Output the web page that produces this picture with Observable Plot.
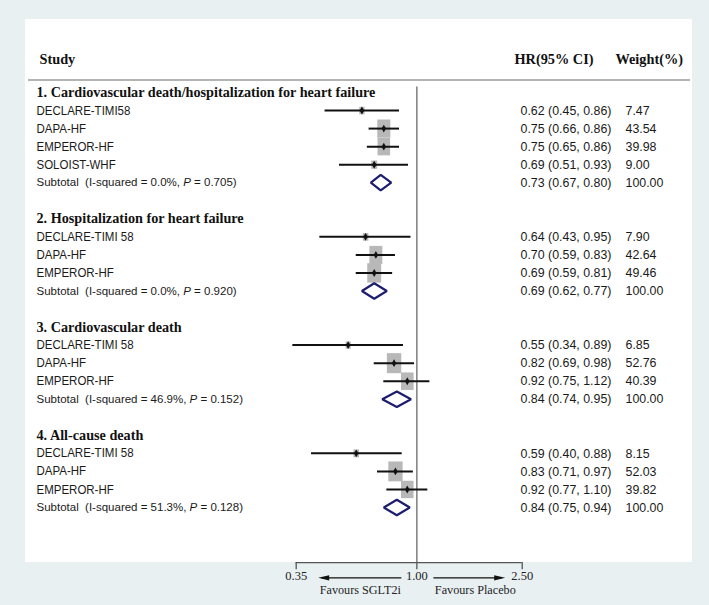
<!DOCTYPE html>
<html>
<head>
<meta charset="utf-8">
<script src="https://cdn.jsdelivr.net/npm/d3@7"></script>
<script src="https://cdn.jsdelivr.net/npm/@observablehq/plot@0.6"></script>
<style>
  html, body { margin: 0; padding: 0; background: #e9f0f2; }
  #wrap { position: relative; width: 709px; height: 605px; overflow: hidden; }
  #panel { position: absolute; left: 25px; top: 19px; width: 667px; height: 543px; background: #ffffff; }
  #rule { position: absolute; left: 28px; top: 79px; width: 662px; height: 1.5px; background: #b4b4b4; }
  #chart { position: absolute; left: 0; top: 0; }
  #chart svg { white-space: pre; }
</style>
</head>
<body>
<div id="wrap"><div id="panel"></div><div id="rule"></div><div id="chart"></div></div>
<script>
// ---------- data ----------
const sections = [
  "1. Cardiovascular death/hospitalization for heart failure",
  "2. Hospitalization for heart failure",
  "3. Cardiovascular death",
  "4. All-cause death"
];
const studies = [
  ["DECLARE-TIMI58", "DAPA-HF", "EMPEROR-HF", "SOLOIST-WHF"],
  ["DECLARE-TIMI 58", "DAPA-HF", "EMPEROR-HF"],
  ["DECLARE-TIMI 58", "DAPA-HF", "EMPEROR-HF"],
  ["DECLARE-TIMI 58", "DAPA-HF", "EMPEROR-HF"]
];
const hr    = [[0.62, 0.75, 0.75, 0.69], [0.64, 0.70, 0.69], [0.55, 0.82, 0.92], [0.59, 0.83, 0.92]];
const lower = [[0.45, 0.66, 0.65, 0.51], [0.43, 0.59, 0.59], [0.34, 0.69, 0.75], [0.40, 0.71, 0.77]];
const upper = [[0.86, 0.86, 0.86, 0.93], [0.95, 0.83, 0.81], [0.89, 0.98, 1.12], [0.88, 0.97, 1.10]];
const weights = [[7.47, 43.54, 39.98, 9.00], [7.90, 42.64, 49.46], [6.85, 52.76, 40.39], [8.15, 52.03, 39.82]];
const subtotalHR    = [0.73, 0.69, 0.84, 0.84];
const subtotalLower = [0.67, 0.62, 0.74, 0.75];
const subtotalUpper = [0.80, 0.77, 0.95, 0.94];
const iSquared = ["0.0%", "0.0%", "46.9%", "51.3%"];
const pValues  = ["0.705", "0.920", "0.152", "0.128"];
const tickValues = [0.35, 1.00, 2.50];
const favourLabels = ["Favours SGLT2i", "Favours Placebo"];
const headers = ["Study", "HR(95% CI)", "Weight(%)"];

// ---------- build rows ----------
const f2 = d3.format(".2f");
const headingRows = [], studyRows = [], subtotalRows = [];
let row = 0;
sections.forEach((s, i) => {
  headingRows.push({row, label: s});
  studies[i].forEach((name, j) => {
    row++;
    studyRows.push({row, label: name, hr: hr[i][j], lo: lower[i][j], hi: upper[i][j], w: weights[i][j],
      ci: `${f2(hr[i][j])} (${f2(lower[i][j])}, ${f2(upper[i][j])})`, wt: f2(weights[i][j])});
  });
  row++;
  subtotalRows.push({row, label: `Subtotal  (I-squared = ${iSquared[i]}, P = ${pValues[i]})`,
    hr: subtotalHR[i], lo: subtotalLower[i], hi: subtotalUpper[i],
    ci: `${f2(subtotalHR[i])} (${f2(subtotalLower[i])}, ${f2(subtotalUpper[i])})`, wt: "100.00"});
  row += 2;
});
const lastRow = row - 2;
const axisRow = lastRow + 3.05;
const diamondHalf = 0.43;
const diamonds = subtotalRows.flatMap((d, k) => [
  {k, x: d.lo, y: d.row}, {k, x: d.hr, y: d.row - diamondHalf},
  {k, x: d.hi, y: d.row}, {k, x: d.hr, y: d.row + diamondHalf}
]);
const allTextRows = [...studyRows, ...subtotalRows];

// rectangular weight box (taller than wide, as in the reference)
const boxSymbol = {
  draw(context, size) {
    const a = 0.72;
    const h = Math.sqrt(size / a), w = a * h;
    context.rect(-w / 2, -h / 2, w, h);
  }
};
// filled arrowheads (tip at origin)
const headLeft = { draw(c) { c.moveTo(0, 0); c.lineTo(11, -2.6); c.lineTo(11, 2.6); c.closePath(); } };
const headRight = { draw(c) { c.moveTo(0, 0); c.lineTo(-11, -2.6); c.lineTo(-11, 2.6); c.closePath(); } };

const SANS = "'Liberation Sans', Arial, sans-serif";
const SERIF = "'Liberation Serif', 'Times New Roman', serif";

const chart = Plot.plot({
  width: 709,
  height: 605,
  marginTop: 0, marginRight: 0, marginBottom: 0, marginLeft: 0,
  style: {background: "transparent", overflow: "visible"},
  x: {type: "log", domain: [0.35, 2.5], range: [295.7, 521.7], axis: null},
  y: {type: "linear", domain: [0, lastRow], range: [92, 507], axis: null},
  r: {type: "sqrt", domain: [0, 100], range: [0, 13.2]},
  marks: [
    Plot.text([headers[0]], {frameAnchor: "top-left", dx: 39, dy: 53, text: d => d, textAnchor: "start",
      fontFamily: SERIF, fontWeight: "bold", fontSize: 14.3, fill: "#111"}),
    Plot.text([headers[1]], {frameAnchor: "top-left", dx: 514, dy: 53, text: d => d, textAnchor: "start",
      fontFamily: SERIF, fontWeight: "bold", fontSize: 14.3, fill: "#111"}),
    Plot.text([headers[2]], {frameAnchor: "top-left", dx: 615, dy: 53, text: d => d, textAnchor: "start",
      fontFamily: SERIF, fontWeight: "bold", fontSize: 14.3, fill: "#111"}),
    Plot.ruleX([1], {y1: -0.3, y2: axisRow, stroke: "#6a6a6a", strokeWidth: 1.3}),
    Plot.text(headingRows, {y: "row", text: "label", frameAnchor: "left", dx: 36, textAnchor: "start",
      fontFamily: SERIF, fontWeight: "bold", fontSize: 14.2, fill: "#111"}),
    Plot.text(studyRows, {y: "row", text: "label", frameAnchor: "left", dx: 36, textAnchor: "start",
      fontFamily: SANS, fontSize: 12.6, fill: "#1a1a1a", className: "lbl"}),
    Plot.text(subtotalRows, {y: "row", text: "label", frameAnchor: "left", dx: 36, textAnchor: "start",
      fontFamily: SANS, fontSize: 11.5, fill: "#1a1a1a", className: "sub"}),
    Plot.text(allTextRows, {y: "row", text: "ci", frameAnchor: "left", dx: 520, textAnchor: "start",
      fontFamily: SANS, fontSize: 13.2, fill: "#1a1a1a", className: "num"}),
    Plot.text(allTextRows, {y: "row", text: "wt", frameAnchor: "left", dx: 625, textAnchor: "start",
      fontFamily: SANS, fontSize: 13.2, fill: "#1a1a1a", className: "num"}),
    Plot.dot(studyRows, {x: "hr", y: "row", r: "w", symbol: boxSymbol, fill: "#b8b8b8", stroke: "none"}),
    Plot.ruleY(studyRows, {y: "row", x1: "lo", x2: "hi", stroke: "#111", strokeWidth: 2}),
    Plot.dot(studyRows, {x: "hr", y: "row", r: 2.4, symbol: "diamond", fill: "#111", stroke: "none"}),
    Plot.line(diamonds, {x: "x", y: "y", z: "k", curve: "linear-closed", fill: "white",
      stroke: "#1d1d70", strokeWidth: 2.2, strokeLinejoin: "miter"}),
    // axis
    Plot.ruleY([axisRow], {x1: tickValues[0], x2: tickValues[tickValues.length - 1], stroke: "#555", strokeWidth: 1.3}),
    Plot.ruleX(tickValues, {x: d => d, y1: axisRow, y2: axisRow + 0.4, stroke: "#555", strokeWidth: 1.3}),
    Plot.text(tickValues, {x: d => d, y: axisRow, dy: 13.5, text: d => f2(d), fontFamily: SERIF,
      fontSize: 12.5, fill: "#222"}),
    // favour arrows
    Plot.arrow([0], {x1: () => 1, x2: () => tickValues[0], y: axisRow, dy: 15.3, insetStart: 16, insetEnd: 26,
      stroke: "#111", strokeWidth: 1.4, headLength: 0}),
    Plot.dot([tickValues[0]], {x: d => d, y: axisRow, dy: 15.3, dx: 22, symbol: headLeft, r: 3, fill: "#111", stroke: "none"}),
    Plot.arrow([0], {x1: () => 1, x2: () => tickValues[2], y: axisRow, dy: 15.3, insetStart: 17, insetEnd: 21,
      stroke: "#111", strokeWidth: 1.4, headLength: 0}),
    Plot.dot([tickValues[2]], {x: d => d, y: axisRow, dy: 15.3, dx: -17, symbol: headRight, r: 3, fill: "#111", stroke: "none"}),
    Plot.text([favourLabels[0]], {x: () => 1, y: axisRow, dy: 27.5, dx: -16, text: d => d, textAnchor: "end",
      fontFamily: SERIF, fontSize: 12.2, fill: "#222"}),
    Plot.text([favourLabels[1]], {x: () => 1, y: axisRow, dy: 27.5, dx: 18, text: d => d, textAnchor: "start",
      fontFamily: SERIF, fontSize: 12.2, fill: "#222"})
  ]
});

document.getElementById("chart").appendChild(chart);

// slightly condense the plain sans-serif texts (tall but narrow glyphs, as in the reference)
function condense(selector, factor) {
  chart.querySelectorAll(selector + " text").forEach(t => {
    const L = t.getComputedTextLength();
    t.setAttribute("textLength", (L * factor).toFixed(2));
    t.setAttribute("lengthAdjust", "spacingAndGlyphs");
  });
}
condense(".lbl", 11.5 / 12.6);
condense(".num", 12.4 / 13.2);

// italicise the P in subtotal labels
chart.querySelectorAll(".sub text").forEach(t => {
  const s = t.textContent;
  const i = s.indexOf("P = ");
  if (i >= 0) {
    const ns = "http://www.w3.org/2000/svg";
    while (t.firstChild) t.removeChild(t.firstChild);
    const a = document.createElementNS(ns, "tspan"); a.textContent = s.slice(0, i);
    const b = document.createElementNS(ns, "tspan"); b.textContent = "P"; b.setAttribute("font-style", "italic");
    const c = document.createElementNS(ns, "tspan"); c.textContent = s.slice(i + 1);
    t.append(a, b, c);
  }
});
</script>
</body>
</html>
